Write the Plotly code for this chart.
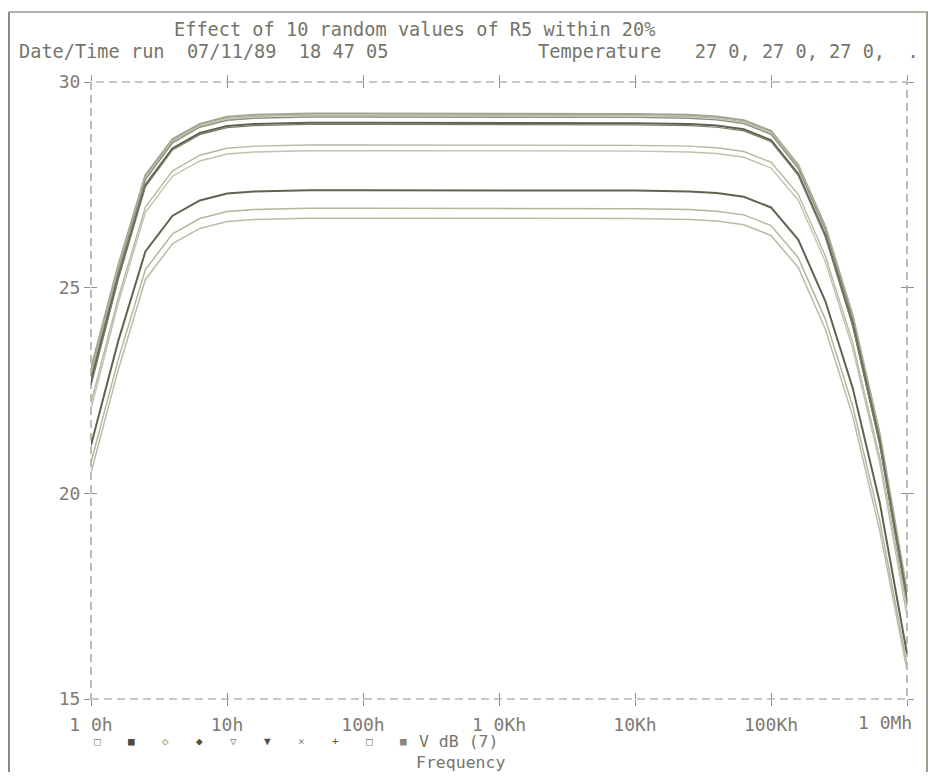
# Probe-style plot: V dB for 10 random values of R5
import plotly.graph_objects as go

# sample frequencies (Hz), 5 points per decade near the roll-offs
freq = [1, 1.585, 2.512, 3.981, 6.310, 10, 15.85, 25.12, 39.81, 100, 1000,
        10000, 25119, 39811, 63096, 100000, 158489, 251189, 398107, 630957, 1000000]

# V dB, one list per run
run1 = [23.03, 25.53, 27.73, 28.61, 28.98, 29.15, 29.20, 29.22, 29.23, 29.23, 29.23,
        29.22, 29.20, 29.16, 29.07, 28.81, 27.98, 26.48, 24.33, 21.43, 17.60]
run2 = [22.90, 25.45, 27.68, 28.56, 28.94, 29.11, 29.16, 29.18, 29.19, 29.19, 29.19,
        29.18, 29.16, 29.12, 29.03, 28.77, 27.95, 26.45, 24.30, 21.40, 17.55]
run3 = [22.82, 25.38, 27.63, 28.52, 28.90, 29.07, 29.12, 29.14, 29.15, 29.15, 29.15,
        29.14, 29.12, 29.08, 28.99, 28.73, 27.90, 26.40, 24.25, 21.35, 17.50]
run4 = [22.70, 25.25, 27.50, 28.39, 28.76, 28.93, 28.98, 29.00, 29.01, 29.01, 29.01,
        29.00, 28.98, 28.94, 28.85, 28.59, 27.77, 26.27, 24.12, 21.22, 17.40]
run5 = [22.62, 25.20, 27.45, 28.35, 28.72, 28.89, 28.94, 28.96, 28.97, 28.97, 28.97,
        28.96, 28.94, 28.90, 28.81, 28.55, 27.73, 26.23, 24.08, 21.18, 17.35]
run6 = [22.20, 24.75, 26.96, 27.84, 28.22, 28.39, 28.44, 28.46, 28.47, 28.47, 28.47,
        28.46, 28.44, 28.40, 28.31, 28.05, 27.27, 25.77, 23.67, 20.87, 17.20]
run7 = [22.05, 24.62, 26.83, 27.71, 28.08, 28.25, 28.30, 28.32, 28.33, 28.33, 28.33,
        28.32, 28.30, 28.26, 28.17, 27.91, 27.13, 25.63, 23.53, 20.73, 17.00]
run8 = [21.17, 23.70, 25.88, 26.75, 27.12, 27.29, 27.34, 27.36, 27.37, 27.37, 27.37,
        27.36, 27.34, 27.30, 27.21, 26.95, 26.17, 24.67, 22.57, 19.77, 16.10]
run9 = [20.75, 23.25, 25.44, 26.31, 26.68, 26.85, 26.90, 26.92, 26.93, 26.93, 26.93,
        26.92, 26.90, 26.86, 26.77, 26.51, 25.73, 24.23, 22.13, 19.33, 15.85]
run10 = [20.50, 23.00, 25.20, 26.07, 26.44, 26.61, 26.66, 26.68, 26.69, 26.69, 26.69,
         26.68, 26.66, 26.62, 26.53, 26.27, 25.49, 23.99, 21.89, 19.09, 15.70]
runs = [run1, run2, run3, run4, run5, run6, run7, run8, run9, run10]

x_ticks = [1, 10, 100, 1000, 10000, 100000, 1000000]
x_labels = ["1 0h", "10h", "100h", "1 0Kh", "10Kh", "100Kh", "1 0Mh"]
y_ticks = [15, 20, 25, 30]

legend_symbols = ["\u25a1", "\u25a0", "\u25c7", "\u25c6", "\u25bd", "\u25bc", "\u00d7", "+", "\u25a1", "\u25a0"]

# trace styles
run_colors = ["#a3a68f", "#b9bba8", "#8e917b", "#5d614e", "#7b7e69",
              "#b6b9a3", "#c0c2ae", "#5f634f", "#b3b69f", "#b9bca7"]
run_widths = [2.2, 1.4, 1.4, 2.0, 1.2, 1.4, 1.4, 2.0, 1.5, 1.5]
legend_colors = ["#8d8a7c", "#4f4a3c", "#a8946c", "#5a4b3c", "#8f8a80",
                 "#4f4d48", "#8a8478", "#5a5448", "#7c7a70", "#8a887e"]

MONO = "DejaVu Sans Mono"
TEXT = "#75756a"
AXC = "#9a8e86"
TICKTXT = "#807870"

# the page body adds an 8px margin on every side, keep the figure inside the window
OFF = 8
W, H = 937 - 2 * OFF, 780 - 2 * OFF
# plot area in window pixels: left 91, right 907, top 82, bottom 699
L, R, T, B = 91, 907, 82, 699


def px(x):
    return (x - L) / (R - L)


def py(y):
    return (B - y) / (B - T)


fig = go.Figure()
for i, r in enumerate(runs):
    fig.add_trace(go.Scatter(
        x=freq, y=r, mode="lines",
        line=dict(color=run_colors[i], width=run_widths[i]),
        name="run %d" % (i + 1),
        hovertemplate="%{x} Hz<br>%{y:.2f} dB<extra></extra>",
    ))
# empty trace so the inner tick axes get drawn
fig.add_trace(go.Scatter(x=[], y=[], xaxis="x2", yaxis="y2", showlegend=False, hoverinfo="skip"))

fig.update_layout(
    width=W, height=H,
    margin=dict(l=L - OFF, r=W - (R - OFF), t=T - OFF, b=H - (B - OFF)),
    plot_bgcolor="white", paper_bgcolor="white",
    showlegend=False,
    font=dict(family=MONO, size=18, color=TEXT),
    # last label is set separately (it sits left of its tick, like the original)
    xaxis=dict(type="log", range=[0, 6], tickvals=x_ticks, ticktext=x_labels[:-1] + [""],
               ticks="outside", ticklen=6, tickwidth=1.3, tickcolor=AXC,
               mirror="ticks", showline=True, linecolor="rgba(0,0,0,0)",
               showgrid=False, zeroline=False, ticklabelstandoff=3,
               tickfont=dict(family=MONO, size=18, color=TICKTXT)),
    yaxis=dict(range=[15, 30], tickvals=y_ticks,
               ticks="outside", ticklen=6, tickwidth=1.3, tickcolor=AXC,
               mirror="ticks", showline=True, linecolor="rgba(0,0,0,0)",
               showgrid=False, zeroline=False,
               tickfont=dict(family=MONO, size=18, color="#857a72")),
    xaxis2=dict(type="log", range=[0, 6], tickvals=x_ticks, overlaying="x", anchor="y",
                ticks="inside", ticklen=6, tickwidth=1.3, tickcolor=AXC,
                mirror="ticks", showline=True, linecolor="rgba(0,0,0,0)",
                showticklabels=False, showgrid=False, zeroline=False),
    yaxis2=dict(range=[15, 30], tickvals=y_ticks, overlaying="y", anchor="x",
                ticks="inside", ticklen=6, tickwidth=1.3, tickcolor=AXC,
                mirror="ticks", showline=True, linecolor="rgba(0,0,0,0)",
                showticklabels=False, showgrid=False, zeroline=False),
)

# dashed plot frame
fig.add_shape(type="rect", xref="paper", yref="paper", x0=0, x1=1, y0=0, y1=1,
              line=dict(color=AXC, width=1.2, dash="8px,5px"), layer="below")

# page border (scan frame)
fig.add_shape(type="line", xref="paper", yref="paper", x0=px(9), x1=px(9), y0=py(12), y1=py(772),
              line=dict(color="#8a8c7c", width=2))
fig.add_shape(type="line", xref="paper", yref="paper", x0=px(9), x1=px(928), y0=py(12), y1=py(12),
              line=dict(color="#9a9a8c", width=1.5))
fig.add_shape(type="line", xref="paper", yref="paper", x0=px(927), x1=px(927), y0=py(12), y1=py(772),
              line=dict(color="#a0a090", width=2))


def note(text, x, y, size=18, color=TEXT, anchor="left"):
    fig.add_annotation(text=text, xref="paper", yref="paper", x=px(x), y=py(y),
                       xanchor=anchor, yanchor="middle", showarrow=False, borderpad=0,
                       font=dict(family=MONO, size=size, color=color))


note("Effect of 10 random values of R5 within 20%", 173, 30, size=18.6)
note("Date/Time run\u00a0\u00a007/11/89\u00a0\u00a018 47 05", 18, 52, size=18.6)
note("Temperature\u00a0\u00a0\u00a027 0,\u00a027 0,\u00a027 0,\u00a0\u00a0.", 537, 52, size=18.6)

note(x_labels[-1], 913, 722, size=18, color=TICKTXT, anchor="right")

for i, s in enumerate(legend_symbols):
    note(s, 97 + 34 * i, 742, size=11, color=legend_colors[i], anchor="center")
note("V dB (7)", 418, 742, size=16.5)
note("Frequency", 415, 762, size=16.5)

fig.write_html("out.html")
